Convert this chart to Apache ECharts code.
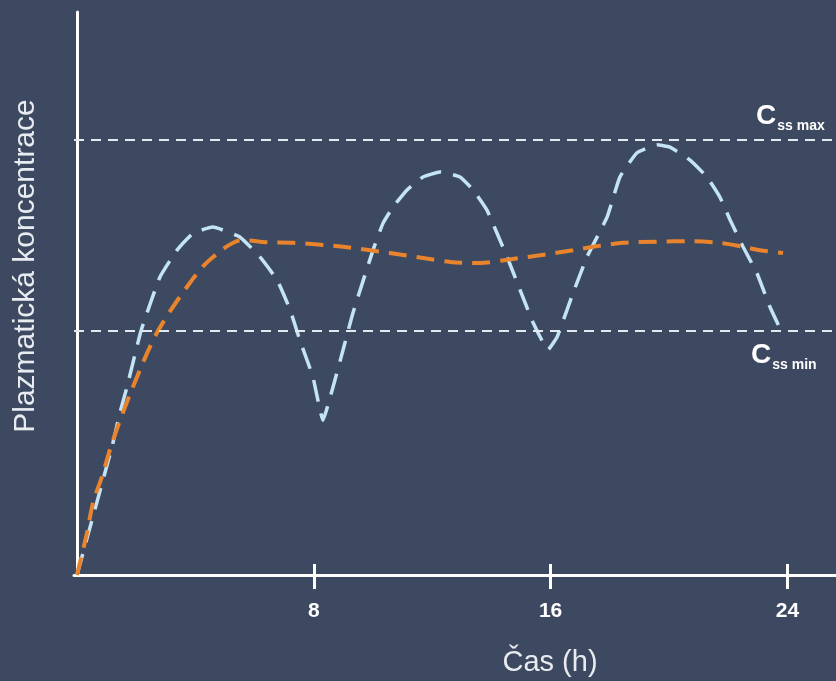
<!DOCTYPE html>
<html>
<head>
<meta charset="utf-8">
<script src="https://cdn.jsdelivr.net/npm/echarts@6/dist/echarts.min.js"></script>
<style>
html,body{margin:0;padding:0;background:#3d4960;}
#chart{width:836px;height:681px;}
</style>
</head>
<body>
<div id="chart"></div>
<script>
// Time (h) ticks
const xTicks = [8, 16, 24];
// Fluctuating concentration after repeated doses (light blue)
const bolusTimes = [0,1.18,1.45,1.69,2.16,2.8,3.38,3.92,4.59,5.51,6.18,6.76,7.2,7.53,7.97,8.31,8.65,8.99,9.32,10.0,10.34,10.68,11.15,11.69,12.26,12.94,13.38,13.85,14.19,14.53,14.97,15.41,15.91,16.22,16.76,17.23,17.91,18.34,18.92,19.59,20.03,20.71,21.28,21.72,22.06,22.5,22.97,23.41,23.82];
const bolusValues = [0,22.7,28.8,33.4,43.3,52.9,57.7,60.7,61.8,60.0,56.5,52.4,47.1,41.7,35.2,27.5,33.4,40.0,46.5,57.7,62.5,65.4,68.4,70.7,71.6,70.7,68.4,64.8,60.7,56.5,50.6,44.8,40.0,42.3,50.1,56.5,63.6,70.7,75.0,76.4,76.0,73.7,70.7,67.1,63.1,58.3,53.6,47.6,43.0];
// Smooth (controlled-release) concentration (orange)
const smoothTimes = [0,0.34,0.54,0.84,1.22,1.89,2.7,3.72,4.49,5.61,6.42,7.3,8.99,10.57,11.69,12.6,13.61,14.53,15.64,16.76,17.43,18.45,19.59,20.71,21.72,22.5,23.07,23.85];
const smoothValues = [0,7.5,12.8,17.4,24.0,33.4,43.0,51.2,56.0,59.5,59.1,59.0,58.3,57.2,56.3,55.6,55.4,56.0,56.8,57.7,58.3,59.0,59.2,59.3,59.0,58.3,57.7,57.2];
// Steady-state limits
const cssMax = 77.3;
const cssMin = 43.3;

const chart = echarts.init(document.getElementById('chart'));
const pair = (xs, ys) => xs.map((x, i) => [x, ys[i]]);
const axisWhite = '#ffffff';
const refColor = '#e3e9f0';
const font = 'Liberation Sans, Arial, sans-serif';

chart.setOption({
  backgroundColor: '#3d4960',
  animation: false,
  grid: { left: 74, right: 0, top: 12, bottom: 106 },
  xAxis: [{
    type: 'value', min: -0.1, max: 25.64,
    splitLine: { show: false },
    axisLine: { show: true, onZero: false, lineStyle: { color: axisWhite, width: 3 } },
    axisTick: { show: true, customValues: xTicks, length: 14, lineStyle: { color: axisWhite, width: 3 } },
    axisLabel: { show: true, customValues: xTicks, color: '#ffffff', fontSize: 21, fontWeight: 'bold', fontFamily: font, margin: 26 }
  }, {
    type: 'value', min: -0.1, max: 25.64, position: 'bottom',
    splitLine: { show: false },
    axisLine: { show: false },
    axisTick: { show: true, inside: true, customValues: xTicks, length: 11, lineStyle: { color: axisWhite, width: 3 } },
    axisLabel: { show: false }
  }],
  yAxis: {
    type: 'value', min: 0, max: 100,
    splitLine: { show: false },
    axisLine: { show: true, lineStyle: { color: axisWhite, width: 3 } },
    axisTick: { show: false },
    axisLabel: { show: false }
  },
  series: [{
    type: 'line', name: 'bolus',
    data: pair(bolusTimes, bolusValues),
    smooth: 0.12, showSymbol: false, symbol: 'none',
    lineStyle: { color: '#c3e4f5', width: 3.5, type: [22, 12] },
    z: 3,
    markLine: {
      silent: true, symbol: 'none',
      label: { show: false },
      lineStyle: { color: refColor, width: 2, type: [10, 7] },
      data: [{ yAxis: cssMax }, { yAxis: cssMin }]
    }
  }, {
    type: 'line', name: 'smooth',
    data: pair(smoothTimes, smoothValues),
    smooth: 0.3, showSymbol: false, symbol: 'none',
    lineStyle: { color: '#e9842c', width: 4, type: [18, 10] },
    z: 4
  }],
  graphic: [{
    type: 'text', left: 756, top: 102,
    style: {
      text: '{c|C}{s|ss max}',
      rich: {
        c: { fontSize: 28, fontWeight: 'bold', fill: '#ffffff', fontFamily: font, verticalAlign: 'bottom' },
        s: { fontSize: 14, fontWeight: 'bold', fill: '#ffffff', fontFamily: font, verticalAlign: 'bottom', padding: [0, 0, -3, 1] }
      }
    }
  }, {
    type: 'text', left: 751, top: 341,
    style: {
      text: '{c|C}{s|ss min}',
      rich: {
        c: { fontSize: 28, fontWeight: 'bold', fill: '#ffffff', fontFamily: font, verticalAlign: 'bottom' },
        s: { fontSize: 14, fontWeight: 'bold', fill: '#ffffff', fontFamily: font, verticalAlign: 'bottom', padding: [0, 0, -3, 1] }
      }
    }
  }, {
    type: 'text', x: 26, y: 266, rotation: Math.PI / 2,
    style: {
      text: 'Plazmatická koncentrace', fill: '#e8ebf0', fontSize: 30,
      fontFamily: font, align: 'center', verticalAlign: 'middle'
    }
  }, {
    type: 'text', x: 550, y: 663,
    style: {
      text: 'Čas (h)', fill: '#e8ebf0', fontSize: 29,
      fontFamily: font, align: 'center', verticalAlign: 'middle'
    }
  }]
});
</script>
</body>
</html>
